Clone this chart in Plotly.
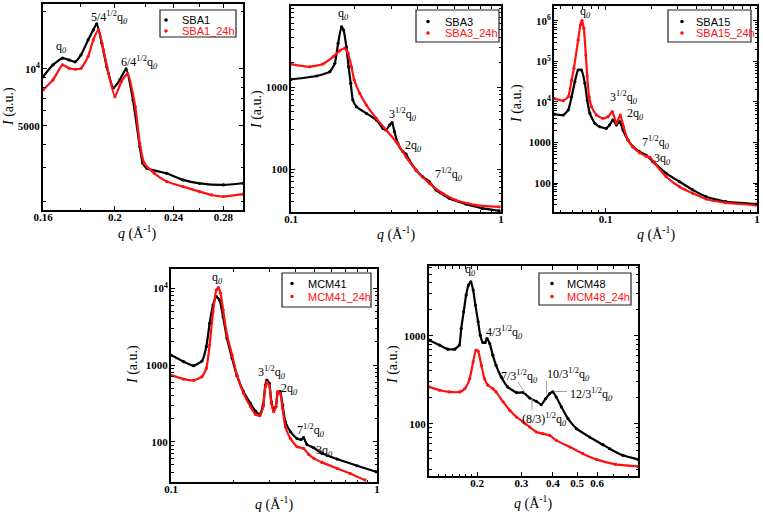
import plotly.graph_objects as go

W, H = 763, 515
BLACK = "#000000"
RED = "#ff1010"

# ---------------- data (q in 1/Å, I in a.u.) ----------------
sba1_q = [0.160, 0.165, 0.170, 0.1735, 0.1767, 0.180, 0.184, 0.187, 0.189, 0.192, 0.195, 0.199,
          0.203, 0.207, 0.2115, 0.216, 0.218, 0.2207, 0.2347, 0.247, 0.260, 0.280, 0.2975]
sba1_I = [9100, 10500, 11400, 11150, 10900, 11860, 14230, 16070, 17300, 13670, 10230, 7940,
          8750, 10000, 6860, 3890, 3180, 2990, 2810, 2594, 2488, 2440, 2490]
sba1_24_q = [0.160, 0.165, 0.170, 0.1735, 0.177, 0.180, 0.184, 0.187, 0.190, 0.193, 0.196, 0.200,
             0.204, 0.208, 0.213, 0.216, 0.219, 0.226, 0.235, 0.247, 0.260, 0.270, 0.280, 0.2975]
sba1_24_I = [7740, 8750, 10500, 10080, 9960, 10080, 11620, 14230, 16070, 12600, 9490, 7140,
             8570, 9410, 6320, 4050, 3180, 2810, 2540, 2390, 2248, 2160, 2120, 2180]

sba3_q = [0.100, 0.1324, 0.1531, 0.1617, 0.1676, 0.1739, 0.178, 0.1835, 0.188, 0.1925, 0.197, 0.205,
          0.2285, 0.2549, 0.2738, 0.2842, 0.2946, 0.303, 0.311, 0.3225, 0.341, 0.353, 0.366, 0.394,
          0.424, 0.456, 0.49, 0.567, 0.68, 0.815, 0.98]
sba3_I = [1241, 1362, 1537, 1945, 3410, 5430, 4950, 3100, 1768, 1110, 694, 575,
          478, 396, 313, 299, 344, 367, 285, 205, 163, 152, 128, 97.2,
          80.1, 70, 55.5, 44, 37.4, 33.1, 31]
sba3_24_q = [0.100, 0.123, 0.142, 0.159, 0.1707, 0.180, 0.187, 0.194, 0.200, 0.2124, 0.2285, 0.255,
             0.284, 0.317, 0.353, 0.394, 0.456, 0.526, 0.61, 0.758, 0.98]
sba3_24_I = [1908, 1768, 1908, 2342, 2771, 2963, 2575, 1768, 1217, 838, 603, 415,
             299, 215, 141, 97, 66.9, 50.6, 41.7, 36.3, 34.6]

sba15_q = [0.0455, 0.0524, 0.0565, 0.0595, 0.0625, 0.0657, 0.069, 0.0728, 0.0754, 0.0785, 0.0846,
           0.0913, 0.101, 0.106, 0.1117, 0.1176, 0.1236, 0.13, 0.1403, 0.151, 0.167, 0.185, 0.205,
           0.251, 0.307, 0.376, 0.46, 0.62, 0.98]
sba15_I = [5000, 4770, 6350, 13500, 31700, 61700, 61700, 28950, 11200, 5260, 2980,
           2450, 2240, 2700, 3600, 2700, 3270, 2040, 1150, 790, 593, 490, 337,
           174, 108, 67.5, 46, 34.6, 30.3]
sba15_24_q = [0.0455, 0.0524, 0.0565, 0.0595, 0.0616, 0.0657, 0.068, 0.0697, 0.0716, 0.0739, 0.0754,
              0.0777, 0.0805, 0.0868, 0.096, 0.1035, 0.1106, 0.1176, 0.1249, 0.131, 0.1403, 0.151,
              0.167, 0.185, 0.196, 0.21, 0.251, 0.307, 0.376, 0.46, 0.62, 0.98]
sba15_24_I = [12300, 10800, 13500, 34900, 68000, 340000, 800000, 1020000, 660000, 144000, 43900,
              13500, 7660, 4770, 3950, 4340, 5760, 2980, 4770, 2450, 1150, 790,
              560, 460, 430, 312, 143, 81, 55.5, 40.3, 32.6, 28.5]

mcm41_q = [0.100, 0.1152, 0.1288, 0.1414, 0.1484, 0.154, 0.160, 0.166, 0.172, 0.179, 0.187, 0.198,
           0.209, 0.225, 0.243, 0.257, 0.270, 0.280, 0.287, 0.292, 0.300, 0.307, 0.315, 0.323,
           0.330, 0.339, 0.348, 0.359, 0.380, 0.409, 0.428, 0.440, 0.457, 0.493, 0.541, 0.64,
           0.80, 0.99]
mcm41_I = [1350, 1105, 980, 1128, 1735, 3490, 6060, 7790, 7050, 4270, 2230, 1222,
           727, 449, 316, 251, 227, 300, 548, 637, 576, 332, 259, 286,
           440, 449, 300, 182, 135, 110, 107, 113, 92, 83.5, 70.5, 59.4,
           48.6, 40.6]
mcm41_24_q = [0.100, 0.1152, 0.1288, 0.1414, 0.1484, 0.154, 0.160, 0.166, 0.170, 0.174, 0.179, 0.187,
              0.198, 0.209, 0.225, 0.243, 0.257, 0.270, 0.280, 0.287, 0.292, 0.300, 0.307, 0.315,
              0.323, 0.330, 0.339, 0.348, 0.359, 0.380, 0.409, 0.440, 0.466, 0.493, 0.541, 0.64,
              0.74, 0.875]
mcm41_24_I = [741, 656, 631, 705, 905, 1823, 4960, 9510, 10200, 8600, 5210, 2460,
              1350, 741, 427, 286, 227, 218, 286, 521, 594, 538, 316, 246,
              286, 449, 427, 272, 157, 110, 86, 81.9, 68.4, 60.7, 53.8, 44.9,
              38.6, 31.6]

mcm48_q = [0.129, 0.142, 0.153, 0.163, 0.170, 0.173, 0.177, 0.181, 0.185, 0.189, 0.193, 0.197,
           0.202, 0.206, 0.211, 0.2155, 0.219, 0.2246, 0.231, 0.238, 0.2495, 0.2648, 0.287, 0.305,
           0.324, 0.344, 0.360, 0.375, 0.389, 0.400, 0.413, 0.433, 0.460, 0.497, 0.560, 0.633,
           0.673, 0.760, 0.873]
mcm48_I = [893, 783, 705, 705, 783, 1212, 1880, 2910, 3790, 4130, 3320, 2240,
           1445, 1017, 839, 839, 932, 818, 602, 462, 340, 262, 226, 226,
           196, 180, 165, 193, 220, 230, 201, 155, 114, 87.7, 70.5, 57.6,
           51.9, 43.6, 39.2]
mcm48_24_q = [0.129, 0.142, 0.155, 0.171, 0.179, 0.187, 0.193, 0.198, 0.202, 0.208, 0.214, 0.221,
              0.231, 0.238, 0.254, 0.270, 0.287, 0.305, 0.324, 0.344, 0.365, 0.389, 0.413, 0.468,
              0.527, 0.596, 0.710, 0.873]
mcm48_24_I = [262, 240, 230, 230, 251, 326, 505, 686, 668, 462, 326, 274,
              251, 230, 177, 142, 119, 104.5, 91.6, 80.4, 76.9, 73.6, 64.6, 54.2,
              45.5, 39.2, 34.4, 32.6]

names = [("SBA1", "SBA1_24h"), ("SBA3", "SBA3_24h"), ("SBA15", "SBA15_24h"),
         ("MCM41", "MCM41_24h"), ("MCM48", "MCM48_24h")]
series = [
    (sba1_q, sba1_I, sba1_24_q, sba1_24_I),
    (sba3_q, sba3_I, sba3_24_q, sba3_24_I),
    (sba15_q, sba15_I, sba15_24_q, sba15_24_I),
    (mcm41_q, mcm41_I, mcm41_24_q, mcm41_24_I),
    (mcm48_q, mcm48_I, mcm48_24_q, mcm48_24_I),
]

# ---------------- layout (pixel geometry) ----------------
def px(x):
    return x / W


def py(y):
    return 1 - y / H


def decades(lo_exp, hi_exp, mults):
    out = []
    for e in range(lo_exp, hi_exp + 1):
        for m in mults:
            out.append(m * 10 ** e)
    return out

panels = [
    dict(box=(43, 4, 243, 210), xr=(-0.7959, -0.5265), yr=(3.255, 4.343),
         xt=[0.16, 0.2, 0.24, 0.28], xtt=["0.16", "0.2", "0.24", "0.28"],
         xm=[0.18, 0.22, 0.26],
         yt=[5000, 10000], ytt=["5000", "10<sup>4</sup>"],
         ym=[2000, 3000, 4000, 6000, 7000, 8000, 9000, 20000]),
    dict(box=(291, 6, 501, 212), xr=(-1, 0), yr=(1.476, 3.988),
         xt=[0.1, 1], xtt=["0.1", "1"], xm=[0.2, 0.3, 0.4, 0.5, 0.6, 0.7, 0.8, 0.9],
         yt=[100, 1000], ytt=["100", "1000"], ym=decades(1, 3, [2, 3, 4, 5, 6, 7, 8, 9])),
    dict(box=(554, 6, 757, 212), xr=(-1.342, 0), yr=(1.284, 6.37),
         xt=[0.1, 1], xtt=["0.1", "1"],
         xm=[0.05, 0.06, 0.07, 0.08, 0.09, 0.2, 0.3, 0.4, 0.5, 0.6, 0.7, 0.8, 0.9],
         yt=[100, 1000, 1e4, 1e5, 1e6],
         ytt=["100", "1000", "10<sup>4</sup>", "10<sup>5</sup>", "10<sup>6</sup>"],
         ym=decades(1, 6, [2, 3, 4, 5, 6, 7, 8, 9])),
    dict(box=(171, 269, 377, 482), xr=(-1, 0), yr=(1.475, 4.252),
         xt=[0.1, 1], xtt=["0.1", "1"], xm=[0.2, 0.3, 0.4, 0.5, 0.6, 0.7, 0.8, 0.9],
         yt=[100, 1000, 1e4], ytt=["100", "1000", "10<sup>4</sup>"],
         ym=decades(1, 4, [2, 3, 4, 5, 6, 7, 8, 9])),
    dict(box=(429, 266, 638, 476), xr=(-0.890, -0.059), yr=(1.404, 3.795),
         xt=[0.2, 0.3, 0.4, 0.5, 0.6], xtt=["0.2", "0.3", "0.4", "0.5", "0.6"],
         xm=[0.14, 0.15, 0.16, 0.17, 0.18, 0.19, 0.7, 0.8],
         yt=[100, 1000], ytt=["100", "1000"], ym=decades(1, 3, [2, 3, 4, 5, 6, 7, 8, 9])),
]

tickfont = dict(family="Liberation Serif", size=11, color="black", weight="bold")

fig = go.Figure()
layout = dict(width=W, height=H, margin=dict(l=0, r=0, t=0, b=0),
              paper_bgcolor="white", plot_bgcolor="white", showlegend=False)

for i, (p, s) in enumerate(zip(panels, series)):
    n = i + 1
    xa = "x" if n == 1 else f"x{n}"
    ya = "y" if n == 1 else f"y{n}"
    x0, y0, x1, y1 = p["box"]
    common = dict(type="log", showline=True, linewidth=2, linecolor="black", mirror="ticks",
                  ticks="inside", ticklen=4, tickwidth=1.3, tickcolor="black", showgrid=False,
                  zeroline=False, tickfont=tickfont, automargin=False)
    layout["xaxis" if n == 1 else f"xaxis{n}"] = dict(
        common, domain=[px(x0), px(x1)], range=list(p["xr"]), anchor=ya,
        tickmode="array", tickvals=p["xt"], ticktext=p["xtt"], ticklabelstandoff=-4,
        minor=dict(tickvals=p["xm"], ticks="inside", ticklen=2.5, tickwidth=1, tickcolor="black",
                   showgrid=False))
    layout["yaxis" if n == 1 else f"yaxis{n}"] = dict(
        common, domain=[py(y1), py(y0)], range=list(p["yr"]), anchor=xa,
        tickmode="array", tickvals=p["yt"], ticktext=p["ytt"], ticklabelstandoff=-1,
        minor=dict(tickvals=p["ym"], ticks="inside", ticklen=2.5, tickwidth=1, tickcolor="black",
                   showgrid=False))
    qa, Ia, qb, Ib = s
    fig.add_trace(go.Scatter(x=qa, y=Ia, mode="lines+markers", name=names[i][0],
                             line=dict(color=BLACK, width=2.2, shape="spline", smoothing=0.5),
                             marker=dict(color=BLACK, size=3.2),
                             xaxis=xa, yaxis=ya))
    fig.add_trace(go.Scatter(x=qb, y=Ib, mode="lines+markers", name=names[i][1],
                             line=dict(color=RED, width=2.2, shape="spline", smoothing=0.5),
                             marker=dict(color=RED, size=3.2),
                             xaxis=xa, yaxis=ya))

fig.update_layout(**layout)

annotations = []
shapes = []
SERIF = "Liberation Serif"

def text(x, y, t, size=12, angle=0, xanchor="center"):
    annotations.append(dict(x=px(x), y=py(y), xref="paper", yref="paper", text=t, showarrow=False,
                            font=dict(family=SERIF, size=size, color="black"), textangle=angle,
                            xanchor=xanchor, yanchor="middle"))

# axis titles
QT = "<i>q</i> (Å<sup>-1</sup>)"
IT = "<i>I</i> (a.u.)"
for (x, y) in [(137, 232), (396, 234), (656, 234), (274, 503), (533, 502)]:
    text(x, y, QT, size=14)
for (x, y) in [(9, 107), (257, 110), (517, 104), (133, 365), (393, 365)]:
    text(x, y, IT, size=14, angle=-90)

q0 = "q<sub><i>0</i></sub>"
# peak labels
text(62, 47, q0)
text(110, 17, "5/4<sup>1/2</sup>" + q0)
text(139, 63, "6/4<sup>1/2</sup>" + q0)
text(343, 14, q0)
text(403, 114, "3<sup>1/2</sup>" + q0)
text(413, 146, "2" + q0)
text(449, 174, "7<sup>1/2</sup>" + q0)
text(585, 12, q0)
text(624, 98, "3<sup>1/2</sup>" + q0)
text(635, 114, "2" + q0)
text(656, 143, "7<sup>1/2</sup>" + q0)
text(662, 159, "3" + q0)
text(217, 278, q0)
text(272, 372, "3<sup>1/2</sup>" + q0)
text(289, 389, "2" + q0)
text(311, 430, "7<sup>1/2</sup>" + q0)
text(324, 451, "3" + q0)
text(470, 270, q0)
text(504, 332, "4/3<sup>1/2</sup>" + q0)
text(519, 376, "7/3<sup>1/2</sup>" + q0)
text(568, 374, "10/3<sup>1/2</sup>" + q0)
text(591, 394, "12/3<sup>1/2</sup>" + q0)
text(544, 419, "(8/3)<sup>1/2</sup>" + q0)

# leader lines for MCM48 labels
for (ax0, ay0, ax1, ay1) in [(518, 382, 525, 393), (546.5, 381, 546.5, 394),
                             (554, 391.5, 567, 391.5), (532, 398, 532, 410)]:
    shapes.append(dict(type="line", xref="paper", yref="paper", x0=px(ax0), y0=py(ay0),
                       x1=px(ax1), y1=py(ay1), line=dict(color="#a0a0a0", width=1)))

# legend boxes (box, dot x, text x, row y's)
legends = [
    ((160, 10, 236, 37), 166, 180, (20, 31)),
    ((416, 10, 499, 42), 428, 443, (21.5, 33)),
    ((668, 10, 751, 42), 682, 694, (21.5, 33)),
    ((282, 273, 371, 307), 292, 306, (283.5, 296.5)),
    ((539, 273, 631, 305), 552, 565, (283.5, 296.5)),
]
for i, (box, dx, tx, rows) in enumerate(legends):
    bx0, by0, bx1, by1 = box
    shapes.append(dict(type="rect", xref="paper", yref="paper", x0=px(bx0), y0=py(by1),
                       x1=px(bx1), y1=py(by0), line=dict(color="#222222", width=1.2),
                       fillcolor="white", layer="above"))
    for (nm, col, ry) in [(names[i][0], BLACK, rows[0]), (names[i][1], RED, rows[1])]:
        shapes.append(dict(type="circle", xref="paper", yref="paper", x0=px(dx - 1.8),
                           x1=px(dx + 1.8), y0=py(ry + 1.8), y1=py(ry - 1.8),
                           fillcolor=col, line=dict(color=col, width=0), layer="above"))
        annotations.append(dict(x=px(tx), y=py(ry), xref="paper", yref="paper", text=nm,
                                showarrow=False, xanchor="left", yanchor="middle",
                                font=dict(family="Liberation Sans", size=11, color=col)))

fig.update_layout(annotations=annotations, shapes=shapes)
fig.write_html("out.html")
